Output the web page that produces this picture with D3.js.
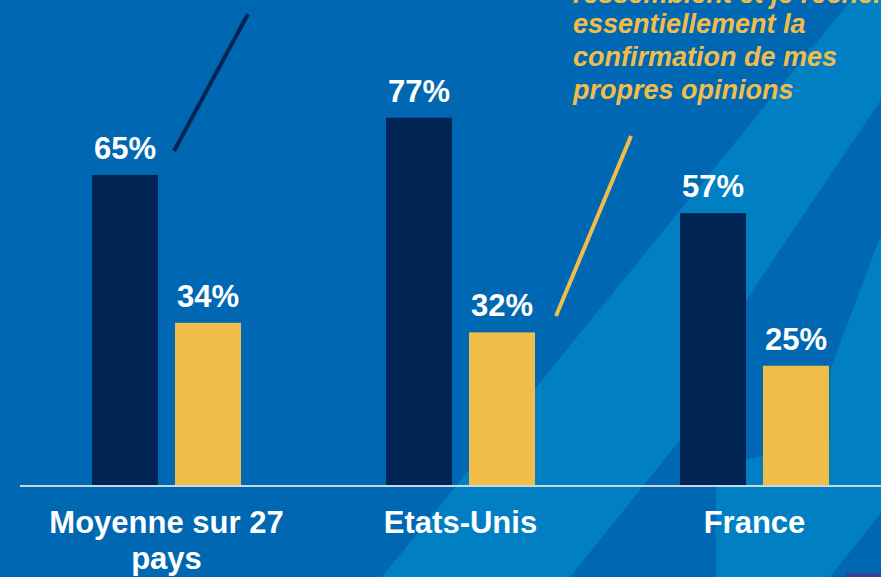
<!DOCTYPE html>
<html>
<head>
<meta charset="utf-8">
<script src="https://cdn.jsdelivr.net/npm/d3@7"></script>
<style>
  html, body { margin: 0; padding: 0; background: #0068b2; }
  svg { display: block; font-family: "Liberation Sans", Arial, sans-serif; }
</style>
</head>
<body>
<svg id="chart" width="881" height="577"></svg>
<script>
// data
var categories = ["Moyenne sur 27 pays", "Etats-Unis", "France"];
var series = ["agree", "seek"];
var agreeValues = [65, 77, 57];
var seekValues = [34, 32, 25];
var annotationLines = ["ressemblent et je recherche", "essentiellement la", "confirmation de mes", "propres opinions"];

var W = 881, H = 577;
var baseY = 485;
var colors = { agree: "#002554", seek: "#f0bd4b" };

var svg = d3.select("#chart");

// background swooshes
var bg = svg.append("g").attr("class", "bg");
bg.append("rect").attr("width", W).attr("height", H).attr("fill", "#0068b2");
var light = "#0080c3", dark = "#0068b2";
var shapes = [
  { c: light, p: [[382,577],[851,0],[881,0],[881,577]] },
  { c: dark,  p: [[570,577],[680,440],[680,487],[716,487],[716,577]] },
  { c: dark,  p: [[746,460],[746,300],[881,100],[881,235],[830,370],[830,440]] },
  { c: dark,  p: [[830,577],[881,513],[881,577]] }
];
shapes.forEach(function (s) {
  bg.append("polygon")
    .attr("points", s.p.map(function (d) { return d.join(","); }).join(" "))
    .attr("fill", s.c);
});
bg.append("rect").attr("x", 846).attr("y", 573).attr("width", 35).attr("height", 4).attr("fill", "#33409a");

// scales
var x0 = d3.scaleBand().domain(categories).range([19.5, 901.5]).padding(0);
var x1 = d3.scaleBand().domain(series).range([72.5, 221.5]).paddingInner(0.205);
var y = d3.scaleLinear().domain([0, 100]).range([baseY, baseY - 477]);

var rows = categories.map(function (c, i) {
  return { cat: c, values: [{ key: "agree", v: agreeValues[i] }, { key: "seek", v: seekValues[i] }] };
});

var groups = svg.selectAll("g.grp").data(rows).enter().append("g")
  .attr("class", "grp")
  .attr("transform", function (d) { return "translate(" + x0(d.cat) + ",0)"; });

groups.selectAll("rect").data(function (d) { return d.values; }).enter().append("rect")
  .attr("x", function (d) { return x1(d.key); })
  .attr("y", function (d) { return y(d.v); })
  .attr("width", x1.bandwidth())
  .attr("height", function (d) { return y(0) - y(d.v); })
  .attr("fill", function (d) { return colors[d.key]; });

groups.selectAll("text.val").data(function (d) { return d.values; }).enter().append("text")
  .attr("class", "val")
  .attr("x", function (d) { return x1(d.key) + x1.bandwidth() / 2; })
  .attr("y", function (d) { return y(d.v) - 16; })
  .attr("text-anchor", "middle")
  .attr("fill", "#fff")
  .attr("font-weight", "bold")
  .attr("font-size", 31)
  .text(function (d) { return d.v + "%"; });

// x axis
var axis = svg.append("g")
  .attr("transform", "translate(0," + (baseY + 1) + ")")
  .call(d3.axisBottom(x0).tickSize(0).tickPadding(0));
axis.select(".domain").attr("stroke", "#cdd5de").attr("stroke-width", 2)
  .attr("d", "M20,0H881");
axis.selectAll(".tick text")
  .attr("fill", "#fff")
  .attr("font-weight", "bold")
  .attr("font-size", 31)
  .attr("font-family", "'Liberation Sans', Arial, sans-serif")
  .attr("dy", null)
  .attr("y", 47)
  .each(function (d) {
    var t = d3.select(this);
    var parts = d === "Moyenne sur 27 pays" ? ["Moyenne sur 27", "pays"] : [d];
    t.text(null);
    parts.forEach(function (p, i) {
      t.append("tspan").attr("x", 0).attr("dy", i === 0 ? 0 : 36).text(p);
    });
  });

// annotation leader lines
svg.append("line").attr("x1", 174).attr("y1", 151).attr("x2", 248).attr("y2", 14)
  .attr("stroke", colors.agree).attr("stroke-width", 4);
svg.append("line").attr("x1", 556).attr("y1", 316).attr("x2", 631).attr("y2", 136)
  .attr("stroke", colors.seek).attr("stroke-width", 4);

// annotation text (top line is cut by the frame, as in the source)
var lineY = [3, 33, 66, 99];
svg.append("text")
  .attr("fill", colors.seek)
  .attr("font-weight", "bold")
  .attr("font-style", "italic")
  .attr("font-size", 27)
  .selectAll("tspan").data(annotationLines).enter().append("tspan")
  .attr("x", 573)
  .attr("y", function (d, i) { return lineY[i]; })
  .text(function (d) { return d; });
</script>
</body>
</html>
